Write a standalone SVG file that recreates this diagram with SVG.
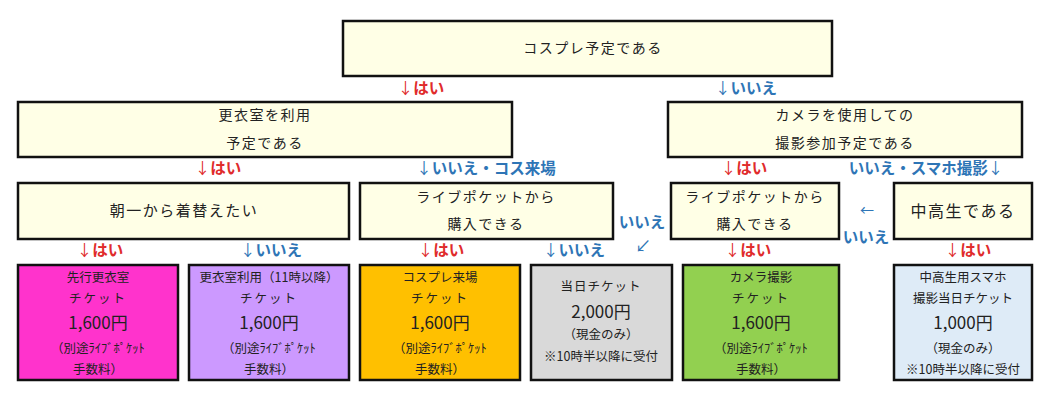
<svg xmlns="http://www.w3.org/2000/svg" width="1053" height="408" viewBox="0 0 1053 408">
<style>
.q{fill:#ffffe6;stroke:#111;stroke-width:2.5}
.t{stroke:#111;stroke-width:2.5}
text{font-family:"Noto Sans CJK JP","Noto Sans",sans-serif;fill:#222;text-anchor:middle}
.m{font-size:14px;letter-spacing:1.5px}
.s{font-size:12.5px}
.p{font-size:17px}
.y{font-size:15.5px;font-weight:bold;fill:#e02b2b}
.n{font-size:15.5px;font-weight:bold;fill:#2e75b6}
.ya{fill:#e02b2b;font-weight:normal}
.na{fill:#2e75b6;font-weight:normal}
</style>
<rect width="1053" height="408" fill="#fff"/>
<g id="q1"><rect class="q" x="343" y="21" width="489" height="55"/><text class="m" x="593" y="53">コスプレ予定である</text></g>
<g id="q2"><rect class="q" x="18" y="102" width="494" height="55"/><text class="m" x="265" y="120">更衣室を利用</text><text class="m" x="265" y="148">予定である</text></g>
<g id="q3"><rect class="q" x="668" y="102" width="354" height="55"/><text class="m" x="845" y="120">カメラを使用しての</text><text class="m" x="845" y="148">撮影参加予定である</text></g>
<g id="q4"><rect class="q" x="18" y="183" width="331" height="56"/><text class="m" style="font-size:15px" x="184" y="216">朝一から着替えたい</text></g>
<g id="q5"><rect class="q" x="360" y="183" width="253" height="56"/><text class="m" x="486" y="202">ライブポケットから</text><text class="m" x="486" y="229">購入できる</text></g>
<g id="q6"><rect class="q" x="671" y="183" width="168" height="56"/><text class="m" x="755" y="202">ライブポケットから</text><text class="m" x="755" y="229">購入できる</text></g>
<g id="q7"><rect class="q" x="894" y="183" width="138" height="56"/><text class="m" style="font-size:16px" x="963" y="217">中高生である</text></g>
<g id="t1"><rect class="t" x="18" y="265" width="160" height="115" fill="#ff33cc"/><text class="s" x="98" y="282">先行更衣室</text><text class="s" x="98" y="303" letter-spacing="2">チケット</text><text class="p" x="98" y="329">1,600円</text><text class="s" x="98" y="353">（別途ﾗｲﾌﾞﾎﾟｹｯﾄ</text><text class="s" x="98" y="374">手数料）</text></g>
<g id="t2"><rect class="t" x="189" y="265" width="160" height="115" fill="#cc99ff"/><text class="s" x="269" y="282">更衣室利用（11時以降）</text><text class="s" x="269" y="303" letter-spacing="2">チケット</text><text class="p" x="269" y="329">1,600円</text><text class="s" x="269" y="353">（別途ﾗｲﾌﾞﾎﾟｹｯﾄ</text><text class="s" x="269" y="374">手数料）</text></g>
<g id="t3"><rect class="t" x="360" y="265" width="160" height="115" fill="#ffc000"/><text class="s" x="440" y="282">コスプレ来場</text><text class="s" x="440" y="303" letter-spacing="2">チケット</text><text class="p" x="440" y="329">1,600円</text><text class="s" x="440" y="353">（別途ﾗｲﾌﾞﾎﾟｹｯﾄ</text><text class="s" x="440" y="374">手数料）</text></g>
<g id="t4"><rect class="t" x="531" y="265" width="141" height="115" fill="#d9d9d9"/><text class="s" x="601" y="291" letter-spacing="1">当日チケット</text><text class="p" x="601" y="318">2,000円</text><text class="s" x="601" y="339">（現金のみ）</text><text class="s" x="601" y="361">※10時半以降に受付</text></g>
<g id="t5"><rect class="t" x="683" y="265" width="156" height="115" fill="#92d050"/><text class="s" x="761" y="282">カメラ撮影</text><text class="s" x="761" y="303" letter-spacing="2">チケット</text><text class="p" x="761" y="329">1,600円</text><text class="s" x="761" y="353">（別途ﾗｲﾌﾞﾎﾟｹｯﾄ</text><text class="s" x="761" y="374">手数料）</text></g>
<g id="t6"><rect class="t" x="894" y="265" width="138" height="115" fill="#deebf7"/><text class="s" x="963" y="282">中高生用スマホ</text><text class="s" x="963" y="303">撮影当日チケット</text><text class="p" x="963" y="329">1,000円</text><text class="s" x="963" y="353">（現金のみ）</text><text class="s" x="963" y="374">※10時半以降に受付</text></g>
<g id="connectors">
<text class="y" x="421" y="94"><tspan class="ya">↓</tspan>はい</text>
<text class="n" x="746" y="94"><tspan class="na">↓</tspan>いいえ</text>
<text class="y" x="218" y="174"><tspan class="ya">↓</tspan>はい</text>
<text class="n" x="486" y="174"><tspan class="na">↓</tspan>いいえ・コス来場</text>
<text class="y" x="744" y="174"><tspan class="ya">↓</tspan>はい</text>
<text class="n" x="926" y="174">いいえ・スマホ撮影<tspan class="na">↓</tspan></text>
<text class="y" x="100" y="256"><tspan class="ya">↓</tspan>はい</text>
<text class="n" x="271" y="256"><tspan class="na">↓</tspan>いいえ</text>
<text class="y" x="441" y="256"><tspan class="ya">↓</tspan>はい</text>
<text class="n" x="574" y="256"><tspan class="na">↓</tspan>いいえ</text>
<text class="y" x="748" y="256"><tspan class="ya">↓</tspan>はい</text>
<text class="y" x="968" y="256"><tspan class="ya">↓</tspan>はい</text>
<text class="n" x="642" y="228">いいえ</text>
<text class="na" x="643" y="252" style="font-size:16px">↙</text>
<text class="na" x="867" y="215" style="font-size:14px">←</text>
<text class="n" x="866" y="243">いいえ</text>
</g>
</svg>
